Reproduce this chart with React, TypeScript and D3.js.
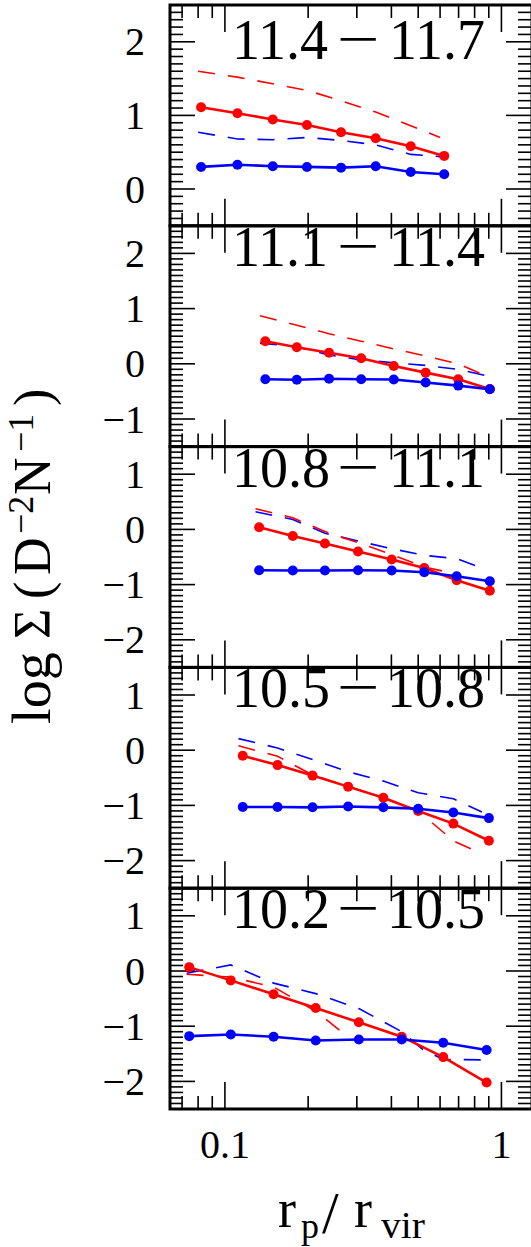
import React from "react";
import * as d3 from "d3";

// ---------- DATA ----------
const binLabelsLo = ["11.4", "11.1", "10.8", "10.5", "10.2"];
const binLabelsHi = ["11.7", "11.4", "11.1", "10.8", "10.5"];
const yDomains: [number, number][] = [[-0.5, 2.5], [-1.5, 2.5], [-2.5, 1.5], [-2.5, 1.5], [-2.5, 1.5]];
const yTickLabels = [[2, 1, 0], [2, 1, 0, -1], [1, 0, -1, -2], [1, 0, -1, -2], [1, 0, -1, -2]];
const xTickLabels = [0.1, 1];
const xMinorTicks = [0.07, 0.08, 0.09, 0.2, 0.3, 0.4, 0.5, 0.6, 0.7, 0.8, 0.9];

// panel 1: 11.4-11.7
const rp1 = [0.082, 0.111, 0.149, 0.198, 0.263, 0.351, 0.47, 0.621];
const red1 = [1.11, 1.03, 0.945, 0.87, 0.77, 0.69, 0.58, 0.45];
const blue1 = [0.3, 0.33, 0.31, 0.3, 0.29, 0.31, 0.23, 0.2];
const dashX1 = [0.080, 0.111, 0.149, 0.198, 0.263, 0.351, 0.47, 0.6];
const redDash1 = [1.6, 1.52, 1.43, 1.34, 1.2, 1.045, 0.86, 0.7];
const blueDash1 = [0.77, 0.68, 0.67, 0.7, 0.66, 0.6, 0.47, 0.44];

// panel 2: 11.1-11.4
const rp2 = [0.14, 0.182, 0.238, 0.311, 0.408, 0.532, 0.698, 0.908];
const red2 = [0.41, 0.3, 0.2, 0.1, -0.04, -0.16, -0.28, -0.455];
const blue2 = [-0.28, -0.29, -0.27, -0.28, -0.285, -0.34, -0.395, -0.46];
const dashX2 = [0.134, 0.182, 0.238, 0.311, 0.408, 0.532, 0.698, 0.871];
const redDash2 = [0.87, 0.7, 0.545, 0.41, 0.27, 0.14, 0.0, -0.21];
const blueDash2 = [0.375, 0.31, 0.16, 0.07, 0.02, -0.03, -0.1, -0.21];

// panel 3: 10.8-11.1
const rp3 = [0.133, 0.176, 0.23, 0.303, 0.401, 0.526, 0.689, 0.908];
const red3 = [0.04, -0.12, -0.255, -0.4, -0.545, -0.7, -0.92, -1.11];
const blue3 = [-0.74, -0.745, -0.745, -0.74, -0.745, -0.776, -0.85, -0.94];
const redDashX3 = [0.129, 0.176, 0.23, 0.303, 0.401, 0.526, 0.633];
const redDash3 = [0.375, 0.21, -0.04, -0.24, -0.455, -0.68, -0.77];
const blueDashX3 = [0.129, 0.176, 0.23, 0.303, 0.401, 0.526, 0.689, 0.848];
const blueDash3 = [0.32, 0.18, -0.07, -0.21, -0.35, -0.47, -0.53, -0.7];

// panel 4: 10.5-10.8
const rp4 = [0.116, 0.155, 0.2075, 0.279, 0.374, 0.5, 0.67, 0.901];
const red4 = [-0.1, -0.27, -0.46, -0.66, -0.86, -1.1, -1.33, -1.64];
const blue4 = [-1.03, -1.03, -1.035, -1.02, -1.035, -1.06, -1.13, -1.23];
const dashX4 = [0.112, 0.155, 0.2075, 0.279, 0.374, 0.5, 0.67, 0.85];
const redDash4 = [0.08, -0.11, -0.45, -0.66, -0.86, -1.1, -1.64, -1.88];
const blueDash4 = [0.21, 0.04, -0.17, -0.39, -0.56, -0.77, -0.88, -1.12];

// panel 5: 10.2-10.5
const rp5 = [0.0743, 0.105, 0.15, 0.213, 0.305, 0.436, 0.616, 0.884];
const red5 = [0.07, -0.17, -0.42, -0.67, -0.93, -1.19, -1.56, -2.02];
const blue5 = [-1.18, -1.15, -1.19, -1.26, -1.24, -1.24, -1.3, -1.43];
const redDashX5 = [0.0727, 0.105, 0.15, 0.213, 0.261];
const redDash5 = [-0.06, -0.11, -0.29, -0.73, -1.08];
const blueDashX5 = [0.0727, 0.105, 0.15, 0.213, 0.305, 0.436, 0.522, 0.616, 0.85];
const blueDash5 = [-0.04, 0.11, -0.22, -0.41, -0.68, -1.1, -1.43, -1.6, -1.61];

const panels = [
  { rp: rp1, red: red1, blue: blue1, rdx: dashX1, rd: redDash1, bdx: dashX1, bd: blueDash1 },
  { rp: rp2, red: red2, blue: blue2, rdx: dashX2, rd: redDash2, bdx: dashX2, bd: blueDash2 },
  { rp: rp3, red: red3, blue: blue3, rdx: redDashX3, rd: redDash3, bdx: blueDashX3, bd: blueDash3 },
  { rp: rp4, red: red4, blue: blue4, rdx: dashX4, rd: redDash4, bdx: dashX4, bd: blueDash4 },
  { rp: rp5, red: red5, blue: blue5, rdx: redDashX5, rd: redDash5, bdx: blueDashX5, bd: blueDash5 },
];

// ---------- LAYOUT ----------
const W = 531, H = 1247;
const L = 170, R = 532, TOP = 5, BOT = 1109;
const PH = (BOT - TOP) / 5;
const labelOffsets = [54, 40, 40, 40, 40];
const FONT = "'Liberation Serif', 'Times New Roman', serif";
const RED = "#ff0000", BLUE = "#0000ff";

const x = d3.scaleLog().domain([0.0633, 1.29]).range([L, R]);

function fmt(v: number) {
  return v < 0 ? "\u2212" + Math.abs(v) : String(v);
}

function Panel({ i }: { i: number }) {
  const p = panels[i];
  const t = TOP + i * PH;
  const b = t + PH;
  const y = d3.scaleLinear().domain(yDomains[i]).range([b, t]);
  const line = d3.line<[number, number]>().x(d => x(d[0])).y(d => y(d[1]));
  const pts = (xs: number[], ys: number[]) => xs.map((v, k) => [v, ys[k]] as [number, number]);
  const [lo, hi] = yDomains[i];
  const minorY = d3.range(Math.round(lo * 10), Math.round(hi * 10) + 1)
    .map(k => k / 10)
    .filter(v => Math.abs(v - Math.round(v)) > 1e-6);
  const majorY = d3.range(Math.ceil(lo), Math.floor(hi) + 1);
  const tk = "#000";
  return (
    <g>
      {/* y ticks */}
      {minorY.map((v, k) => (
        <g key={"my" + k}>
          <line x1={L} x2={L + 13} y1={y(v)} y2={y(v)} stroke={tk} strokeWidth={1.6} />
          <line x1={R - 1} x2={R - 14} y1={y(v)} y2={y(v)} stroke={tk} strokeWidth={1.6} />
        </g>
      ))}
      {majorY.map((v, k) => (
        <g key={"My" + k}>
          <line x1={L} x2={L + 25} y1={y(v)} y2={y(v)} stroke={tk} strokeWidth={1.6} />
          <line x1={R - 1} x2={R - 26} y1={y(v)} y2={y(v)} stroke={tk} strokeWidth={1.6} />
        </g>
      ))}
      {/* x ticks */}
      {xMinorTicks.map((v, k) => (
        <g key={"mx" + k}>
          <line x1={x(v)} x2={x(v)} y1={b} y2={b - 13} stroke={tk} strokeWidth={1.6} />
          <line x1={x(v)} x2={x(v)} y1={t} y2={t + 13} stroke={tk} strokeWidth={1.6} />
        </g>
      ))}
      {xTickLabels.map((v, k) => (
        <g key={"Mx" + k}>
          <line x1={x(v)} x2={x(v)} y1={b} y2={b - 27} stroke={tk} strokeWidth={1.6} />
          <line x1={x(v)} x2={x(v)} y1={t} y2={t + 27} stroke={tk} strokeWidth={1.6} />
        </g>
      ))}
      {/* y tick labels */}
      {yTickLabels[i].map((v, k) => (
        <text key={"yl" + k} x={145} y={y(v) + 13.5} textAnchor="end" fontFamily={FONT} fontSize={40}>
          {fmt(v)}
        </text>
      ))}
      {/* panel label */}
      <text x={232} y={t + labelOffsets[i]} fontFamily={FONT} fontSize={56} textAnchor="start">{binLabelsLo[i]}</text>
      <text transform={`translate(358,${t + labelOffsets[i] - 1}) scale(1.35,1)`} fontFamily={FONT} fontSize={56}
        textAnchor="middle">{"\u2212"}</text>
      <text x={485} y={t + labelOffsets[i]} fontFamily={FONT} fontSize={56} textAnchor="end">{binLabelsHi[i]}</text>
      {/* dashed model lines */}
      <path d={line(pts(p.bdx, p.bd)) || ""} fill="none" stroke={BLUE} strokeWidth={1.6} strokeDasharray="17 13" />
      <path d={line(pts(p.rdx, p.rd)) || ""} fill="none" stroke={RED} strokeWidth={1.6} strokeDasharray="17 13" />
      {/* solid data lines */}
      <path d={line(pts(p.rp, p.red)) || ""} fill="none" stroke={RED} strokeWidth={2.6} />
      {p.rp.map((v, k) => (
        <circle key={"rc" + k} cx={x(v)} cy={y(p.red[k])} r={5} fill={RED} />
      ))}
      <path d={line(pts(p.rp, p.blue)) || ""} fill="none" stroke={BLUE} strokeWidth={2.6} />
      {p.rp.map((v, k) => (
        <circle key={"bc" + k} cx={x(v)} cy={y(p.blue[k])} r={5} fill={BLUE} />
      ))}
      {/* frame */}
      <rect x={L} y={t} width={R - L} height={PH} fill="none" stroke="#000" strokeWidth={3} />
    </g>
  );
}

export default function App() {
  return (
    <svg width={W} height={H} style={{ position: "absolute", left: 0, top: 0, background: "#fff" }}>
      <rect x={0} y={0} width={W} height={H} fill="#fff" />
      {panels.map((_, i) => <Panel key={i} i={i} />)}
      {/* bottom x tick labels */}
      {xTickLabels.map((v, k) => (
        <text key={"xl" + k} x={x(v)} y={1158} textAnchor="middle" fontFamily={FONT} fontSize={40}>
          {String(v)}
        </text>
      ))}
      {/* x axis title */}
      <g fontFamily={FONT}>
        <text x={278} y={1227} fontSize={54}>r</text>
        <text x={301} y={1238} fontSize={36}>p</text>
        <text x={322} y={1233} fontSize={60}>/</text>
        <text x={354} y={1227} fontSize={54}>r</text>
        <text x={381} y={1238} fontSize={38} textLength={44} lengthAdjust="spacingAndGlyphs">vir</text>
      </g>
      {/* y axis title */}
      <g transform="translate(50,0) rotate(-90)" fontFamily={FONT}>
        <text x={-724} y={0} fontSize={54} textLength={72} lengthAdjust="spacingAndGlyphs">log</text>
        <text x={-639} y={0} fontSize={52}>{"\u03A3"}</text>
        <text x={-599} y={0} fontSize={52}>(</text>
        <text x={-575} y={0} fontSize={52}>D</text>
        <text x={-534} y={-17} fontSize={36}>{"\u22122"}</text>
        <text x={-495} y={0} fontSize={52}>N</text>
        <text x={-452} y={-17} fontSize={36}>{"\u22121"}</text>
        <text x={-406} y={0} fontSize={52}>)</text>
      </g>
    </svg>
  );
}
